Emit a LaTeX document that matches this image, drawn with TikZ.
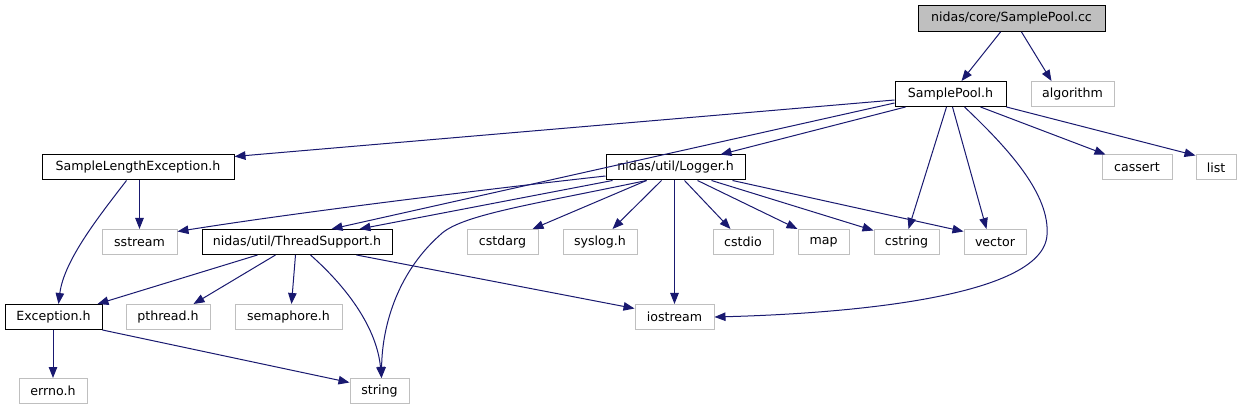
\documentclass[tikz,border=0pt]{standalone}
\usepackage{fontspec}
\setmainfont{DejaVu Sans}
\usetikzlibrary{arrows.meta}
\definecolor{mblue}{HTML}{191970}
\definecolor{lgray}{HTML}{BFBFBF}
\begin{document}
\begin{tikzpicture}[x=1pt,y=-1pt,
  box/.style={rectangle,minimum height=25pt,inner sep=0pt,line width=1pt,font=\fontsize{12.6}{15}\selectfont},
  loc/.style={box,draw=black,fill=white},
  ext/.style={box,draw=lgray,fill=white},
  root/.style={box,draw=black,fill=lgray,minimum height=26pt},
  dep/.style={draw=mblue,line width=1pt,-{Triangle[length=11pt,width=8.5pt]},fill=none},
]
\useasboundingbox (0,0) rectangle (1239,411);
\fill[white] (0,0) rectangle (1239,411);
% nodes
\node[root,minimum width=187pt] (cc) at (1011.5,18.5) {nidas/core/SamplePool.cc};
\node[loc,minimum width=111pt] (sph) at (950.5,94) {SamplePool.h};
\node[ext,minimum width=83pt] (alg) at (1072.5,94) {algorithm};
\node[loc,minimum width=192pt] (sle) at (138,167.5) {SampleLengthException.h};
\node[loc,minimum width=139pt] (log) at (675.5,167.5) {nidas/util/Logger.h};
\node[ext,minimum width=70pt] (cas) at (1137,167.5) {cassert};
\node[ext,minimum width=40pt] (lst) at (1216,167.5) {list};
\node[ext,minimum width=75pt] (sst) at (139.5,242) {sstream};
\node[loc,minimum width=190pt] (ts) at (297,242) {nidas/util/ThreadSupport.h};
\node[ext,minimum width=71pt] (csa) at (502.5,242) {cstdarg};
\node[ext,minimum width=74pt] (sys) at (600,242) {syslog.h};
\node[ext,minimum width=60pt] (cdi) at (743,242) {cstdio};
\node[ext,minimum width=51pt] (map) at (823.5,242) {map};
\node[ext,minimum width=65pt] (cst) at (906.5,242) {cstring};
\node[ext,minimum width=62pt] (vec) at (995,242) {vector};
\node[loc,minimum width=97pt] (exc) at (53.5,317) {Exception.h};
\node[ext,minimum width=84pt] (pth) at (168,317) {pthread.h};
\node[ext,minimum width=107pt] (sem) at (288.5,317) {semaphore.h};
\node[ext,minimum width=79pt] (ios) at (674.5,317) {iostream};
\node[ext,minimum width=68pt] (err) at (53,391) {errno.h};
\node[ext,minimum width=59pt] (str) at (379.5,391) {string};
% edges
\draw[dep] ([xshift=83pt]cc.south west) -- ([xshift=67pt]sph.north west);
\draw[dep] ([xshift=104pt]cc.south west) -- ([xshift=21pt]alg.north west);
\draw[dep] ([yshift=-6pt]sph.west) -- ([yshift=-2pt]sle.north east);
\draw[dep] ([yshift=-9pt]sph.west) -- ([xshift=130pt]ts.north west);
\draw[dep] ([xshift=11pt]sph.south west) -- ([xshift=115pt]log.north west);
\draw[dep] ([xshift=52pt]sph.south west) -- ([xshift=35pt]cst.north west);
\draw[dep] ([xshift=58pt]sph.south west) -- ([xshift=23pt]vec.north west);
\draw[dep] ([xshift=70pt]sph.south west) .. controls (1010,150) and (1050,195) .. (1047,235)
  .. controls (1043,300) and (830,314) .. (ios.east);
\draw[dep] ([xshift=86pt]sph.south west) -- ([xshift=4pt]cas.north west);
\draw[dep] (sph.south east) -- ([yshift=-1pt]lst.north west);
\draw[dep] (sle.south -| sst.north) -- (sst.north);
\draw[dep] ([xshift=85pt]sle.south west) .. controls (100,215) and (64,260) .. ([xshift=54pt]exc.north west);
\draw[dep] ([yshift=-8.5pt]log.west) .. controls (480,190) and (300,212) .. ([yshift=-2.5pt]sst.north east);
\draw[dep] ([xshift=7pt]log.south west) -- ([xshift=158pt]ts.north west);
\draw[dep] ([xshift=41pt]log.south west) .. controls (530,205) and (460,215) .. (440,235)
  .. controls (395,275) and (382,330) .. ([xshift=2pt]str.north);
\draw[dep] ([xshift=41pt]log.south west) -- ([xshift=66pt]csa.north west);
\draw[dep] ([xshift=56pt]log.south west) -- ([xshift=50pt]sys.north west);
\draw[dep] (log.south -| ios.north) -- (ios.north);
\draw[dep] ([xshift=79pt]log.south west) -- ([xshift=18pt]cdi.north west);
\draw[dep] ([xshift=92pt]log.south west) -- (map.north west);
\draw[dep] ([xshift=106pt]log.south west) -- ([yshift=-1.5pt]cst.north west);
\draw[dep] ([xshift=127pt]log.south west) -- ([yshift=-2.5pt]vec.north west);
\draw[dep] ([xshift=56pt]ts.south west) -- ([xshift=-5pt]exc.north east);
\draw[dep] ([xshift=74pt]ts.south west) -- ([xshift=68pt]pth.north west);
\draw[dep] ([xshift=94pt]ts.south west) -- ([xshift=57pt]sem.north west);
\draw[dep] ([xshift=109pt]ts.south west) .. controls (350,290) and (377,330) .. ([xshift=2pt]str.north);
\draw[dep] ([xshift=155pt]ts.south west) -- ([yshift=-4.5pt]ios.north west);
\draw[dep] (exc.south -| err.north) -- (err.north);
\draw[dep] (exc.south east) -- ([yshift=-4.5pt]str.north west);
\end{tikzpicture}
\end{document}
